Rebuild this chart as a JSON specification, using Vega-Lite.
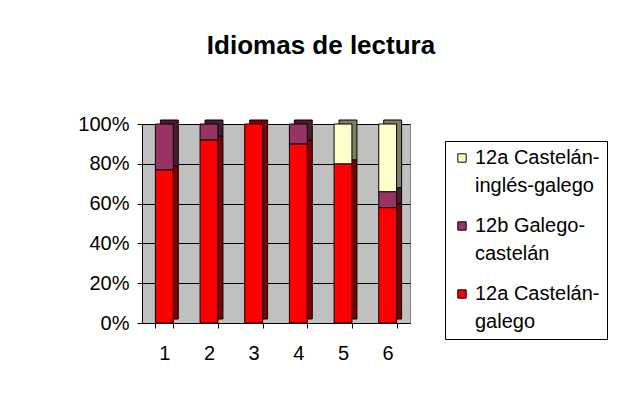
{
  "$schema": "https://vega.github.io/schema/vega-lite/v6.json",
  "autosize": "none",
  "width": 268,
  "height": 199,
  "padding": {"left": 142, "top": 124, "right": 223, "bottom": 86},
  "background": "white",
  "title": {
    "text": "Idiomas de lectura",
    "anchor": "middle",
    "dx": 45,
    "baseline": "alphabetic",
    "offset": 34,
    "font": "Liberation Sans",
    "fontSize": 26,
    "fontWeight": "bold",
    "color": "black"
  },
  "data": {
    "values": [
      {"cat": "1", "serie": "12a Castelán-galego", "rank": 1, "pct": 77},
      {"cat": "1", "serie": "12b Galego-castelán", "rank": 2, "pct": 23},
      {"cat": "2", "serie": "12a Castelán-galego", "rank": 1, "pct": 92},
      {"cat": "2", "serie": "12b Galego-castelán", "rank": 2, "pct": 8},
      {"cat": "3", "serie": "12a Castelán-galego", "rank": 1, "pct": 100},
      {"cat": "4", "serie": "12a Castelán-galego", "rank": 1, "pct": 90},
      {"cat": "4", "serie": "12b Galego-castelán", "rank": 2, "pct": 10},
      {"cat": "5", "serie": "12a Castelán-galego", "rank": 1, "pct": 80},
      {"cat": "5", "serie": "12a Castelán-inglés-galego", "rank": 3, "pct": 20},
      {"cat": "6", "serie": "12a Castelán-galego", "rank": 1, "pct": 58},
      {"cat": "6", "serie": "12b Galego-castelán", "rank": 2, "pct": 8},
      {"cat": "6", "serie": "12a Castelán-inglés-galego", "rank": 3, "pct": 34}
    ]
  },
  "encoding": {
    "x": {
      "field": "cat",
      "type": "nominal",
      "scale": {"paddingInner": 0.6, "paddingOuter": 0.3},
      "axis": {
        "title": null,
        "labelAngle": 0,
        "tickBand": "extent",
        "domainColor": "black",
        "tickColor": "black",
        "tickSize": 5,
        "labelFontSize": 20,
        "labelFont": "Liberation Sans",
        "labelColor": "black",
        "labelPadding": 15,
        "labelAlign": "center",
        "labelBound": false,
        "grid": false
      }
    },
    "y": {
      "field": "pct",
      "type": "quantitative",
      "stack": "normalize",
      "scale": {"domain": [0, 1]},
      "axis": {
        "title": null,
        "format": ".0%",
        "values": [0, 0.2, 0.4, 0.6, 0.8, 1],
        "domainColor": "black",
        "tickColor": "black",
        "tickSize": 5,
        "labelFontSize": 20,
        "labelFont": "Liberation Sans",
        "labelColor": "black",
        "labelPadding": 8,
        "grid": true,
        "gridColor": "black",
        "gridOpacity": 1
      }
    },
    "order": {"field": "rank", "type": "quantitative", "sort": "ascending"}
  },
  "layer": [
    {
      "mark": {"type": "bar", "stroke": "black", "strokeWidth": 1, "xOffset": 5, "yOffset": -4},
      "encoding": {
        "color": {
          "field": "serie",
          "type": "nominal",
          "scale": {
            "domain": ["12a Castelán-inglés-galego", "12b Galego-castelán", "12a Castelán-galego"],
            "range": ["#808066", "#4d1a33", "#800000"]
          },
          "legend": null
        }
      }
    },
    {
      "mark": {"type": "bar", "stroke": "black", "strokeWidth": 1},
      "encoding": {
        "color": {
          "field": "serie",
          "type": "nominal",
          "scale": {
            "domain": ["12a Castelán-inglés-galego", "12b Galego-castelán", "12a Castelán-galego"],
            "range": ["#FFFFCC", "#993366", "#FF0000"]
          },
          "legend": {
            "title": null,
            "orient": "none",
            "legendX": 303,
            "legendY": 17,
            "strokeColor": "black",
            "fillColor": "white",
            "padding": 7,
            "symbolType": "square",
            "symbolSize": 70,
            "symbolStrokeColor": "black",
            "symbolStrokeWidth": 1,
            "symbolOpacity": 1,
            "labelFont": "Liberation Sans",
            "labelFontSize": 20,
            "labelColor": "black",
            "labelOffset": 3,
            "labelBaseline": "middle",
            "labelLimit": 300,
            "rowPadding": 20,
            "labelExpr": "datum.label == '12a Castelán-inglés-galego' ? ['12a Castelán-', 'inglés-galego'] : datum.label == '12b Galego-castelán' ? ['12b Galego-', 'castelán'] : ['12a Castelán-', 'galego']"
          }
        }
      }
    }
  ],
  "resolve": {"scale": {"color": "independent"}},
  "config": {
    "font": "Liberation Sans",
    "view": {"fill": "#C0C0C0", "stroke": "#808080"},
    "style": {"guide-label": {"lineHeight": 28}}
  }
}
